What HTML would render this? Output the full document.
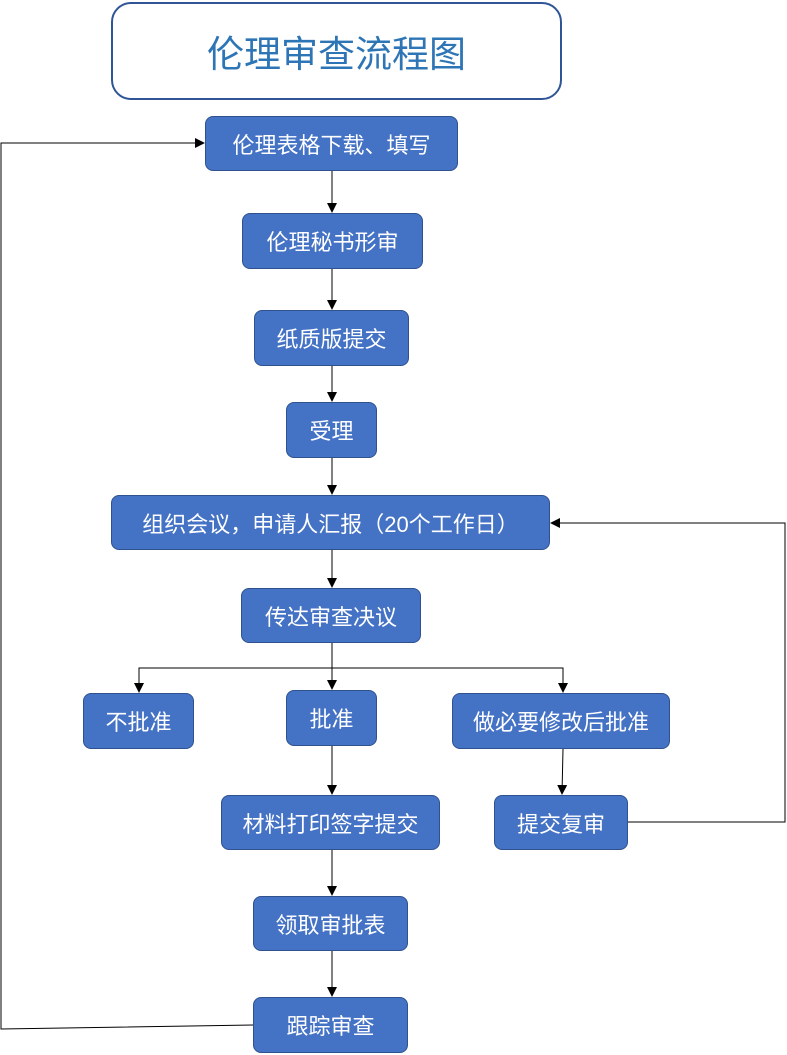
<!DOCTYPE html>
<html><head><meta charset="utf-8"><style>
html,body{margin:0;padding:0;background:#fff;}
body{width:787px;height:1055px;position:relative;overflow:hidden;font-family:"Liberation Sans","Noto Sans CJK SC",sans-serif;}
.b{position:absolute;background:#4472c4;border:1.5px solid #2f528f;border-radius:8px;color:#fff;font-size:22px;display:flex;align-items:center;justify-content:center;box-sizing:border-box;white-space:nowrap;}
.t{position:absolute;left:111px;top:2px;width:451px;height:98px;border:2px solid #2f5597;border-radius:20px;box-sizing:border-box;color:#2e75b6;font-size:37px;display:flex;align-items:center;justify-content:center;}
svg{position:absolute;left:0;top:0;}
</style></head><body>
<svg width="787" height="1055">
<defs><marker id="a" markerWidth="10" markerHeight="10" refX="9" refY="5" orient="auto" markerUnits="userSpaceOnUse"><path d="M0,0 L10,5 L0,10 z" fill="#000"/></marker></defs>
<g stroke="#000" stroke-width="1" fill="none">
<line x1="332" y1="171" x2="332" y2="212" marker-end="url(#a)"/>
<line x1="332" y1="269" x2="332" y2="309" marker-end="url(#a)"/>
<line x1="332" y1="366" x2="332" y2="401" marker-end="url(#a)"/>
<line x1="332" y1="458" x2="332" y2="494" marker-end="url(#a)"/>
<line x1="332" y1="550" x2="332" y2="587" marker-end="url(#a)"/>
<line x1="332" y1="643" x2="332" y2="689" marker-end="url(#a)"/>
<polyline points="139,692 139,668 563,668 563,692" />
<line x1="139" y1="680" x2="139" y2="692" marker-end="url(#a)"/>
<line x1="563" y1="680" x2="563" y2="692" marker-end="url(#a)"/>
<line x1="332" y1="746" x2="332" y2="794" marker-end="url(#a)"/>
<line x1="563" y1="749" x2="562" y2="794" marker-end="url(#a)"/>
<line x1="332" y1="850" x2="332" y2="895" marker-end="url(#a)"/>
<line x1="332" y1="951" x2="332" y2="996" marker-end="url(#a)"/>
<polyline points="253,1025 1,1029 1,143 204,143" marker-end="url(#a)"/>
<polyline points="628,822 785,822 785,523 551,523" marker-end="url(#a)"/>
</g></svg>
<div class="t">伦理审查流程图</div>
<div class="b" style="left:205px;top:116px;width:253px;height:55px">伦理表格下载、填写</div>
<div class="b" style="left:242px;top:213px;width:181px;height:56px">伦理秘书形审</div>
<div class="b" style="left:254px;top:310px;width:155px;height:56px">纸质版提交</div>
<div class="b" style="left:286px;top:402px;width:91px;height:56px">受理</div>
<div class="b" style="left:111px;top:495px;width:439px;height:55px">组织会议，申请人汇报（20个工作日）</div>
<div class="b" style="left:241px;top:588px;width:180px;height:55px">传达审查决议</div>
<div class="b" style="left:83px;top:693px;width:111px;height:56px">不批准</div>
<div class="b" style="left:286px;top:690px;width:91px;height:56px">批准</div>
<div class="b" style="left:452px;top:693px;width:218px;height:56px">做必要修改后批准</div>
<div class="b" style="left:221px;top:795px;width:219px;height:55px">材料打印签字提交</div>
<div class="b" style="left:494px;top:795px;width:134px;height:55px">提交复审</div>
<div class="b" style="left:253px;top:896px;width:155px;height:55px">领取审批表</div>
<div class="b" style="left:253px;top:997px;width:155px;height:56px">跟踪审查</div>
</body></html>
